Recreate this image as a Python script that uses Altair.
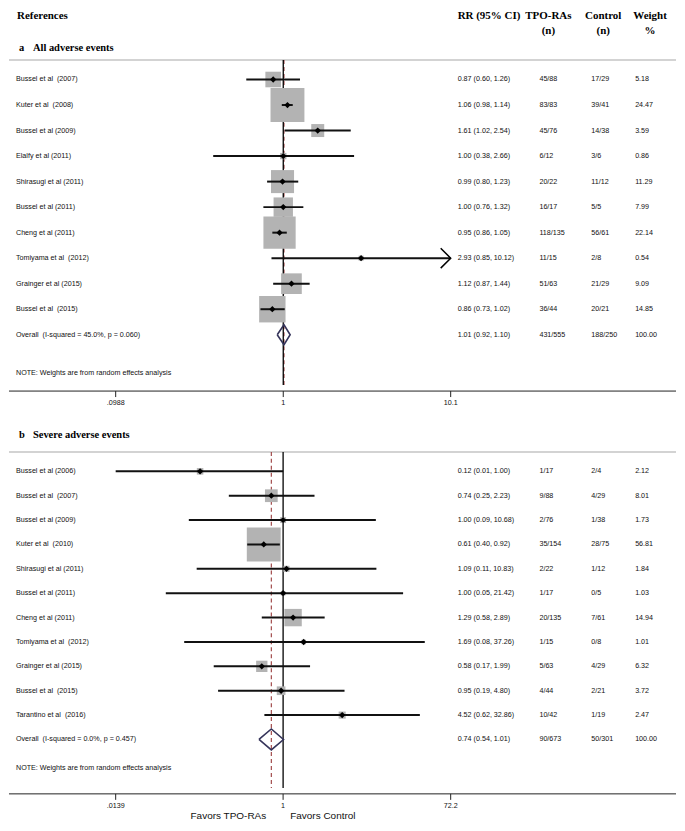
import math
import altair as alt
import pandas as pd

# ---------------- data: panel a (all adverse events) ----------------
a_study = ["Bussel et al  (2007)", "Kuter et al  (2008)", "Bussel et al (2009)", "Elalfy et al (2011)",
           "Shirasugi et al (2011)", "Bussel et al (2011)", "Cheng et al (2011)", "Tomiyama et al  (2012)",
           "Grainger et al (2015)", "Bussel et al  (2015)"]
a_rr = [0.87, 1.06, 1.61, 1.00, 0.99, 1.00, 0.95, 2.93, 1.12, 0.86]
a_lo = [0.60, 0.98, 1.02, 0.38, 0.80, 0.76, 0.86, 0.85, 0.87, 0.73]
a_hi = [1.26, 1.14, 2.54, 2.66, 1.23, 1.32, 1.05, 10.12, 1.44, 1.02]
a_tpo = ["45/88", "83/83", "45/76", "6/12", "20/22", "16/17", "118/135", "11/15", "51/63", "36/44"]
a_ctrl = ["17/29", "39/41", "14/38", "3/6", "11/12", "5/5", "56/61", "2/8", "21/29", "20/21"]
a_weight = [5.18, 24.47, 3.59, 0.86, 11.29, 7.99, 22.14, 0.54, 9.09, 14.85]
a_overall_label = "Overall  (I-squared = 45.0%, p = 0.060)"
a_overall = [1.01, 0.92, 1.10]
a_overall_n = ["431/555", "188/250"]
a_ticks = [0.0988, 1, 10.1]
a_tick_labels = [".0988", "1", "10.1"]

# ---------------- data: panel b (severe adverse events) ----------------
b_study = ["Bussel et al (2006)", "Bussel et al  (2007)", "Bussel et al (2009)", "Kuter et al  (2010)",
           "Shirasugi et al (2011)", "Bussel et al (2011)", "Cheng et al (2011)", "Tomiyama et al  (2012)",
           "Grainger et al (2015)", "Bussel et al  (2015)", "Tarantino et al  (2016)"]
b_rr = [0.12, 0.74, 1.00, 0.61, 1.09, 1.00, 1.29, 1.69, 0.58, 0.95, 4.52]
b_lo = [0.01, 0.25, 0.09, 0.40, 0.11, 0.05, 0.58, 0.08, 0.17, 0.19, 0.62]
b_hi = [1.00, 2.23, 10.68, 0.92, 10.83, 21.42, 2.89, 37.26, 1.99, 4.80, 32.86]
b_tpo = ["1/17", "9/88", "2/76", "35/154", "2/22", "1/17", "20/135", "1/15", "5/63", "4/44", "10/42"]
b_ctrl = ["2/4", "4/29", "1/38", "28/75", "1/12", "0/5", "7/61", "0/8", "4/29", "2/21", "1/19"]
b_weight = [2.12, 8.01, 1.73, 56.81, 1.84, 1.03, 14.94, 1.01, 6.32, 3.72, 2.47]
b_overall_label = "Overall  (I-squared = 0.0%, p = 0.457)"
b_overall = [0.74, 0.54, 1.01]
b_overall_n = ["90/673", "50/301"]
b_ticks = [0.0139, 1, 72.2]
b_tick_labels = [".0139", "1", "72.2"]

col_headers = ["RR (95% CI)", "TPO-RAs", "Control", "Weight"]
col_units = ["(n)", "(n)", "%"]
note_text = "NOTE: Weights are from random effects analysis"

# ---------------- styling ----------------
W = 669
SANS = "Liberation Sans"
SERIF = "Liberation Serif"
TXT = "#111111"
NB = lambda s: s.replace("  ", " \u00a0")


def build_panel(study, rr, lo, hi, tpo, ctrl, wt, ov_label, ov, ov_n, ticks, tick_labels,
                letter, title, geo, headers=False, favors=False):
    H, r0, st = geo["height"], geo["row0"], geo["step"]

    def v(px):
        return (px - r0) / st

    n = len(study)
    tmin, tmax = ticks[0], ticks[-1]
    L0, L1 = math.log10(tmin), math.log10(tmax)
    X0, X1 = 107, 443
    D = (X1 - X0) / (L1 - L0)
    xs = alt.Scale(type="log", domain=[10 ** (L0 - X0 / D), 10 ** (L1 + (W - X1) / D)], nice=False)
    ys = alt.Scale(domain=[v(0), v(H)], reverse=True, nice=False, zero=False)

    def X(f):
        return alt.X(f, scale=xs, axis=None)

    def Y(f):
        return alt.Y(f, scale=ys, axis=None)

    rows = pd.DataFrame({"v": list(range(n)), "rr": rr, "lo": lo, "hi": hi, "w": wt})
    rows["lo_c"] = rows["lo"].clip(lower=tmin)
    rows["hi_c"] = rows["hi"].clip(upper=tmax)
    arrows = pd.DataFrame({"x": [tmax] * int((rows["hi"] > tmax).sum()),
                           "v": rows.loc[rows["hi"] > tmax, "v"].tolist()})

    txt = pd.DataFrame({
        "v": list(range(n + 1)),
        "study": [NB(s) for s in study] + [NB(ov_label)],
        "ci": [f"{a:.2f} ({b:.2f}, {c:.2f})" for a, b, c in zip(rr + [ov[0]], lo + [ov[1]], hi + [ov[2]])],
        "tpo": tpo + [ov_n[0]],
        "ctrl": ctrl + [ov_n[1]],
        "w": [f"{x:.2f}" for x in wt + [100.0]],
    })

    vlines = pd.DataFrame({"x": [1.0], "y": [v(geo["gray"])], "y2": [v(geo["null_end"])]})
    olines = pd.DataFrame({"x": [ov[0]], "y": [v(geo["gray"])], "y2": [v(geo["null_end"])]})
    hh = geo["diam_half"] / st
    diamond = pd.DataFrame({"x": [ov[1], ov[0], ov[2], ov[0], ov[1]],
                            "y": [n, n - hh, n, n + hh, n], "o": [0, 1, 2, 3, 4]})
    gray = pd.DataFrame({"y": [v(geo["gray"])]})
    axis_df = pd.DataFrame({"y": [v(geo["axis"])]})
    tick_df = pd.DataFrame({"x": ticks, "lab": tick_labels, "y": [v(geo["axis"])] * 3,
                            "y2": [v(geo["axis"] + 6)] * 3, "yl": [v(geo["tick_lab"])] * 3})

    layers = []
    layers.append(alt.Chart(gray).mark_rule(color="#c4c4c4", strokeWidth=1.5).encode(
        y=Y("y:Q"), x=alt.value(0), x2=alt.value(W)))
    layers.append(alt.Chart(olines).mark_rule(color="#9a3b3b", strokeWidth=1.1, strokeDash=[4, 3]).encode(
        x=X("x:Q"), y=Y("y:Q"), y2="y2:Q"))
    layers.append(alt.Chart(vlines).mark_rule(color="#000000", strokeWidth=1.3).encode(
        x=X("x:Q"), y=Y("y:Q"), y2="y2:Q"))
    layers.append(alt.Chart(rows).mark_point(shape="square", filled=True, color="#b3b3b3",
                                             opacity=1, strokeWidth=0).encode(
        x=X("rr:Q"), y=Y("v:Q"),
        size=alt.Size("w:Q", scale=alt.Scale(type="linear", domain=[0, max(wt)], range=[0, 1156]),
                      legend=None)))
    layers.append(alt.Chart(rows).mark_rule(color="#111111", strokeWidth=2).encode(
        x=X("lo_c:Q"), x2="hi_c:Q", y=Y("v:Q")))
    layers.append(alt.Chart(rows).mark_point(shape="diamond", filled=True, color="#000000",
                                             opacity=1, size=40).encode(
        x=X("rr:Q"), y=Y("v:Q")))
    if len(arrows):
        layers.append(alt.Chart(arrows).mark_point(shape="M-2,-2L0,0L-2,2", filled=False, color="#000000",
                                                   opacity=1, strokeWidth=1.5, size=100).encode(
            x=X("x:Q"), y=Y("v:Q")))
    layers.append(alt.Chart(diamond).mark_line(color="#35345a", strokeWidth=1.6).encode(
        x=X("x:Q"), y=Y("y:Q"), order="o:Q"))

    base_txt = dict(baseline="middle", font=SANS, fontSize=7.2, color=TXT)
    layers.append(alt.Chart(txt).mark_text(align="left", **base_txt).encode(
        x=alt.value(7), y=Y("v:Q"), text="study:N"))
    layers.append(alt.Chart(txt).mark_text(align="left", **base_txt).encode(
        x=alt.value(450), y=Y("v:Q"), text="ci:N"))
    layers.append(alt.Chart(txt).mark_text(align="left", **base_txt).encode(
        x=alt.value(532), y=Y("v:Q"), text="tpo:N"))
    layers.append(alt.Chart(txt).mark_text(align="left", **base_txt).encode(
        x=alt.value(584), y=Y("v:Q"), text="ctrl:N"))
    layers.append(alt.Chart(txt).mark_text(align="left", **base_txt).encode(
        x=alt.value(628), y=Y("v:Q"), text="w:N"))
    layers.append(alt.Chart(pd.DataFrame({"y": [v(geo["note"])], "t": [note_text]})).mark_text(
        align="left", **base_txt).encode(x=alt.value(7), y=Y("y:Q"), text="t:N"))

    # section title
    sec = pd.DataFrame({"y": [v(geo["section"])], "a": [letter], "t": [title]})
    layers.append(alt.Chart(sec).mark_text(align="left", baseline="middle", font=SERIF, fontWeight="bold",
                                           fontSize=10.5, color="#000000").encode(
        x=alt.value(10), y=Y("y:Q"), text="a:N"))
    layers.append(alt.Chart(sec).mark_text(align="left", baseline="middle", font=SERIF, fontWeight="bold",
                                           fontSize=10.5, color="#000000").encode(
        x=alt.value(24), y=Y("y:Q"), text="t:N"))

    # axis
    layers.append(alt.Chart(axis_df).mark_rule(color="#222222", strokeWidth=1).encode(
        y=Y("y:Q"), x=alt.value(0), x2=alt.value(W)))
    layers.append(alt.Chart(tick_df).mark_rule(color="#222222", strokeWidth=1).encode(
        x=X("x:Q"), y=Y("y:Q"), y2="y2:Q"))
    layers.append(alt.Chart(tick_df).mark_text(align="center", baseline="middle", font=SANS, fontSize=7.2,
                                               color=TXT).encode(
        x=X("x:Q"), y=Y("yl:Q"), text="lab:N"))

    if headers:
        htop = v(0.5)
        hfont = dict(font=SERIF, fontWeight="bold", fontSize=11, color="#000000", baseline="top")
        layers.append(alt.Chart(pd.DataFrame({"y": [htop], "t": ["References"]})).mark_text(
            align="left", **hfont).encode(x=alt.value(8), y=Y("y:Q"), text="t:N"))
        layers.append(alt.Chart(pd.DataFrame({"y": [htop], "t": [col_headers[0]]})).mark_text(
            align="left", **hfont).encode(x=alt.value(450), y=Y("y:Q"), text="t:N"))
        for cx, t, u in zip([541, 596, 643], col_headers[1:], col_units):
            layers.append(alt.Chart(pd.DataFrame({"y": [htop], "t": [t]})).mark_text(
                align="center", **hfont).encode(x=alt.value(cx), y=Y("y:Q"), text="t:N"))
            layers.append(alt.Chart(pd.DataFrame({"y": [v(geo["units"])], "t": [u]})).mark_text(
                align="center", font=SERIF, fontWeight="bold", fontSize=11, color="#000000",
                baseline="middle").encode(x=alt.value(cx), y=Y("y:Q"), text="t:N"))

    if favors:
        fav = pd.DataFrame({"y": [v(geo["favors"])] * 2, "t": ["Favors TPO-RAs", "Favors Control"]})
        layers.append(alt.Chart(fav.iloc[[0]]).mark_text(align="right", baseline="bottom", font=SANS,
                                                         fontSize=10, color=TXT).encode(
            x=alt.value(258), y=Y("y:Q"), text="t:N"))
        layers.append(alt.Chart(fav.iloc[[1]]).mark_text(align="left", baseline="bottom", font=SANS,
                                                         fontSize=10, color=TXT).encode(
            x=alt.value(282), y=Y("y:Q"), text="t:N"))

    return alt.layer(*layers).properties(width=W, height=H)


geo_a = dict(height=401, row0=70.5, step=25.6, units=22, section=39, gray=51, note=365,
             null_end=377, axis=383, tick_lab=395, diam_half=10)
geo_b = dict(height=414, row0=62.5, step=24.45, section=26, gray=43, note=360,
             null_end=380, axis=386, tick_lab=398, favors=413, diam_half=10.5)

pa = build_panel(a_study, a_rr, a_lo, a_hi, a_tpo, a_ctrl, a_weight, a_overall_label, a_overall,
                 a_overall_n, a_ticks, a_tick_labels, "a", "All adverse events", geo_a, headers=True)
pb = build_panel(b_study, b_rr, b_lo, b_hi, b_tpo, b_ctrl, b_weight, b_overall_label, b_overall,
                 b_overall_n, b_ticks, b_tick_labels, "b", "Severe adverse events", geo_b, favors=True)

chart = (alt.vconcat(pa, pb, spacing=0)
         .resolve_scale(size="independent")
         .properties(padding=0, background="white")
         .configure_view(stroke=None))
chart.save("out.html", embed_options={"renderer": "svg", "actions": False})
